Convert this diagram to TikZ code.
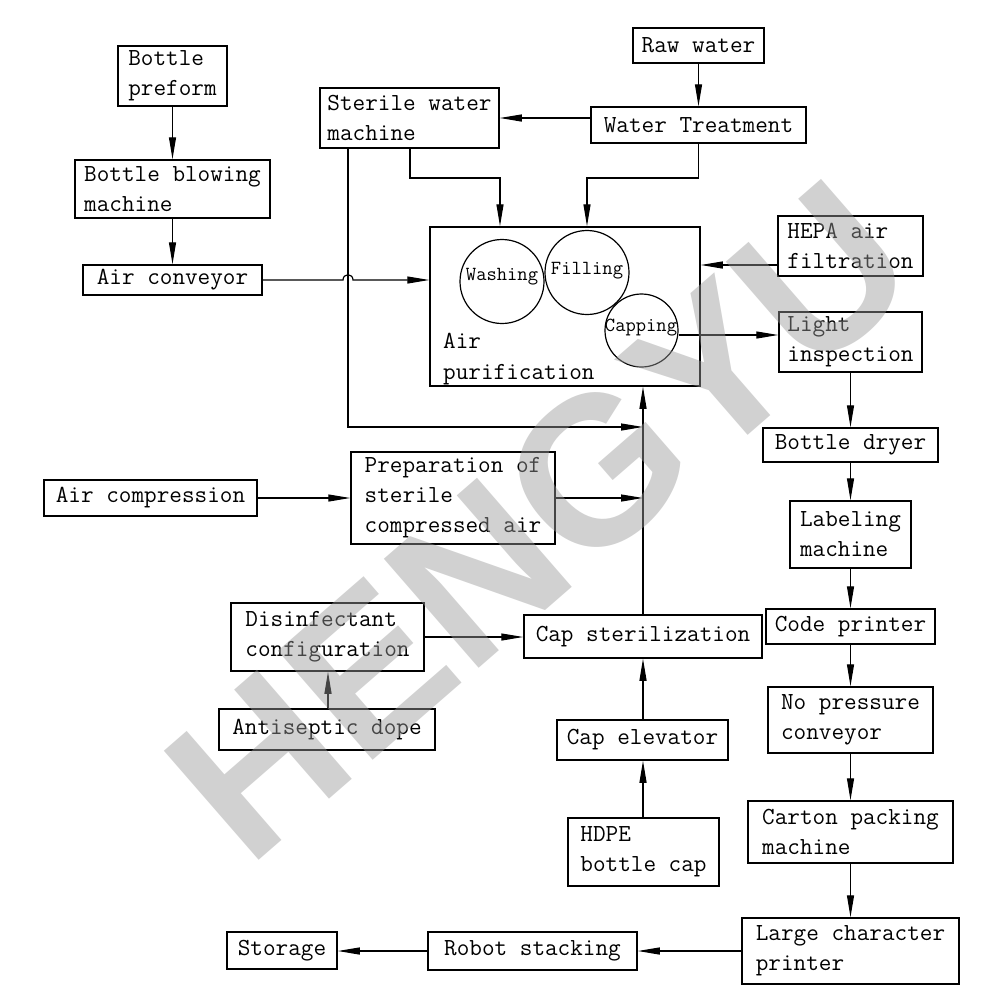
\documentclass[tikz,border=0pt]{standalone}
\usepackage{fontspec}
\newfontfamily\wmfont{Liberation Sans}
\usetikzlibrary{arrows.meta}
\begin{document}
\begin{tikzpicture}[x=1pt,y=-1pt,
  box/.style={draw, line width=1.5pt, inner sep=0pt, align=left, font=\ttfamily\fontsize{24.5}{30}\selectfont},
  circ/.style={draw, circle, line width=1.2pt, inner sep=0pt},
  small/.style={font=\ttfamily\fontsize{20}{24}\selectfont, inner sep=0pt},
  big/.style={font=\ttfamily\fontsize{24.5}{30}\selectfont, inner sep=0pt},
  arr/.style={line width=1.2pt, -{Triangle[length=22pt,width=7pt]}},
]
\useasboundingbox (0,0) rectangle (1000,1005);
\fill[white] (0,0) rectangle (1000,1005);

% nodes
\node[box, minimum width=109pt, minimum height=60pt] (pre) at (172.5,76) {Bottle\\preform};
\node[box, minimum width=195pt, minimum height=58pt] (blow) at (172.5,189) {Bottle blowing\\machine};
\node[box, minimum width=179pt, minimum height=30pt] (conv) at (172.5,280) {Air conveyor};
\node[box, minimum width=179pt, minimum height=60pt] (steril) at (409.5,118) {Sterile water\\machine};
\node[box, minimum width=131pt, minimum height=35pt] (raw) at (698.5,45.5) {Raw water};
\node[box, minimum width=215pt, minimum height=36pt] (wt) at (698.5,125) {Water Treatment};
\node[box, minimum width=270pt, minimum height=159pt] (main) at (565,306.5) {};
\node[box, minimum width=145pt, minimum height=60pt] (hepa) at (850.5,246) {HEPA air\\filtration};
\node[box, minimum width=143pt, minimum height=60pt] (light) at (850.5,342) {Light\\inspection};
\node[box, minimum width=175pt, minimum height=34pt] (dryer) at (850.5,445) {Bottle dryer};
\node[box, minimum width=121pt, minimum height=67pt] (label) at (850.5,534.5) {Labeling\\machine};
\node[box, minimum width=169pt, minimum height=35pt] (code) at (850.5,626.5) {Code printer};
\node[box, minimum width=165pt, minimum height=66pt] (nopress) at (850.5,720) {No pressure\\conveyor};
\node[box, minimum width=205pt, minimum height=62pt] (carton) at (850.5,832) {Carton packing\\machine};
\node[box, minimum width=217pt, minimum height=66pt] (large) at (850.5,951) {Large character\\printer};
\node[box, minimum width=209pt, minimum height=38pt] (robot) at (532.5,951) {Robot stacking};
\node[box, minimum width=110pt, minimum height=37pt] (storage) at (282,950.5) {Storage};
\node[box, minimum width=151pt, minimum height=68pt] (hdpe) at (643.5,852) {HDPE\\bottle cap};
\node[box, minimum width=171pt, minimum height=40pt] (capel) at (642.5,740) {Cap elevator};
\node[box, minimum width=238pt, minimum height=43pt] (capster) at (643,636.5) {Cap sterilization};
\node[box, minimum width=193pt, minimum height=68pt] (disinf) at (327.5,637) {Disinfectant\\configuration};
\node[box, minimum width=216pt, minimum height=41pt] (antisep) at (327,729.5) {Antiseptic dope};
\node[box, minimum width=213pt, minimum height=36pt] (aircomp) at (150.5,498) {Air compression};
\node[box, minimum width=204pt, minimum height=92pt] (prep) at (453,498) {Preparation of\\sterile\\compressed air};

% circles inside main box
\node[circ, minimum size=84pt] (washc) at (502,281.5) {};
\node[circ, minimum size=84pt] (fillc) at (587,272.5) {};
\node[circ, minimum size=73pt] (capc) at (641.5,330.5) {};
\node[small] (washt) at (502,277) {Washing};
\node[small] (fillt) at (587,271) {Filling};
\node[small] (capt) at (641,328) {Capping};
\node[big, anchor=base west] (airt) at (443,348) {Air};
\node[big, anchor=base west] (purt) at (443,379) {purification};

% helper coordinates
\coordinate (tx) at (348,0);
\coordinate (sx) at (410,0);
\coordinate (wb) at (500,178);
\coordinate (fb) at (587,178);
\coordinate (j1) at (643,427);
\coordinate (tr) at (643,0);
\coordinate (hy) at (0,265);
\coordinate (ly) at (0,335);
\coordinate (ax) at (328,0);

% connectors
\draw[arr] (pre.south) -- (blow.north);
\draw[arr] (blow.south) -- (conv.north);
\draw[arr] (conv.east) -- (343,280) .. controls (343,273) and (353,273) .. (353,280) -- (main.west |- conv.east);
\draw[arr] (steril.south -| tx) |- (j1);
\draw[arr] (steril.south -| sx) |- (wb) -- (main.north -| wb);
\draw[arr] (wt.south) |- (fb) -- (main.north -| fb);
\draw[arr] (wt.west |- steril.east) -- (steril.east);
\draw[arr] (raw.south) -- (wt.north);
\draw[arr] (hepa.west |- hy) -- (main.east |- hy);
\draw[arr] (capc.east |- ly) -- (light.west |- ly);
\draw[arr] (light.south) -- (dryer.north);
\draw[arr] (dryer.south) -- (label.north);
\draw[arr] (label.south) -- (code.north);
\draw[arr] (code.south) -- (nopress.north);
\draw[arr] (nopress.south) -- (carton.north);
\draw[arr] (carton.south) -- (large.north);
\draw[arr] (large.west) -- (robot.east);
\draw[arr] (robot.west) -- (storage.east |- robot.west);
\draw[arr] (hdpe.north -| tr) -- (capel.south -| tr);
\draw[arr] (capel.north -| tr) -- (capster.south -| tr);
\draw[arr] (capster.north -| tr) -- (main.south -| tr);
\draw[arr] (prep.east) -- (prep.east -| tr);
\draw[arr] (aircomp.east) -- (prep.west);
\draw[arr] (disinf.east) -- (capster.west |- disinf.east);
\draw[arr] (antisep.north -| ax) -- (disinf.south -| ax);

% watermark
\node[rotate=41, text=black!40, text opacity=0.45, inner sep=0pt,
      font=\wmfont\bfseries\fontsize{210}{210}\selectfont] (wm) at (540,520) {HENGYU};
\end{tikzpicture}
\end{document}
